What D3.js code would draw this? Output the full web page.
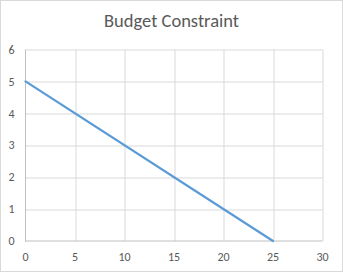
<!DOCTYPE html>
<html>
<head>
<meta charset="utf-8">
<script src="https://cdn.jsdelivr.net/npm/d3@7"></script>
<style>
  body { margin: 0; background: #fff; }
  text { font-family: Carlito, Lato, "Open Sans", sans-serif; fill: #595959; }
</style>
</head>
<body>
<div id="chart"></div>
<script>
// data
var xValues = [0, 25];
var yValues = [5, 0];
var xTicks = [0, 5, 10, 15, 20, 25, 30];
var yTicks = [0, 1, 2, 3, 4, 5, 6];
var title = "Budget Constraint";

var W = 343, H = 272;
var margin = {top: 49.5, right: 20.5, bottom: 31, left: 25.5};
var width = W - margin.left - margin.right,
    height = H - margin.top - margin.bottom;

var svg = d3.select("#chart").append("svg")
    .attr("width", W)
    .attr("height", H);

// chart border
svg.append("rect")
    .attr("x", 0.5).attr("y", 0.5)
    .attr("width", W - 1).attr("height", H - 1)
    .attr("fill", "#fff")
    .attr("stroke", "#d9d9d9");

svg.append("text")
    .attr("x", W / 2)
    .attr("y", 27)
    .attr("text-anchor", "middle")
    .style("font-size", "18.5px")
    .text(title);

var g = svg.append("g")
    .attr("transform", "translate(" + margin.left + "," + margin.top + ")");

var x = d3.scaleLinear().domain([0, 30]).range([0, width]);
var y = d3.scaleLinear().domain([0, 6]).range([height, 0]);

// gridlines
g.selectAll(".hgrid").data(yTicks.slice(1)).enter().append("line")
    .attr("x1", 0).attr("x2", width)
    .attr("y1", function(d) { return Math.round(y(d)) + 0.5; })
    .attr("y2", function(d) { return Math.round(y(d)) + 0.5; })
    .attr("stroke", "#d9d9d9");
g.selectAll(".vgrid").data(xTicks.slice(1)).enter().append("line")
    .attr("y1", 0).attr("y2", height)
    .attr("x1", function(d) { return Math.round(x(d)) + 0.5; })
    .attr("x2", function(d) { return Math.round(x(d)) + 0.5; })
    .attr("stroke", "#d9d9d9");

// axes lines
g.append("line").attr("x1", 0).attr("x2", 0).attr("y1", 0).attr("y2", height + 0.5)
    .attr("stroke", "#bfbfbf");
g.append("line").attr("x1", 0).attr("x2", width).attr("y1", height).attr("y2", height)
    .attr("stroke", "#bfbfbf");

// tick labels
g.selectAll(".ylab").data(yTicks).enter().append("text")
    .attr("x", -11)
    .attr("y", function(d) { return y(d); })
    .attr("dy", "0.35em")
    .attr("text-anchor", "end")
    .style("font-size", "12px")
    .text(function(d) { return d; });
g.selectAll(".xlab").data(xTicks).enter().append("text")
    .attr("x", function(d) { return x(d); })
    .attr("y", height + 16)
    .attr("dy", "0.35em")
    .attr("text-anchor", "middle")
    .style("font-size", "12px")
    .text(function(d) { return d; });

// series
var pts = xValues.map(function(v, i) { return [v, yValues[i]]; });
var line = d3.line()
    .x(function(d) { return x(d[0]); })
    .y(function(d) { return y(d[1]); });
g.append("path")
    .datum(pts)
    .attr("d", line)
    .attr("fill", "none")
    .attr("stroke", "#5b9bd5")
    .attr("stroke-width", 2.25)
    .attr("stroke-linecap", "round");
</script>
</body>
</html>
